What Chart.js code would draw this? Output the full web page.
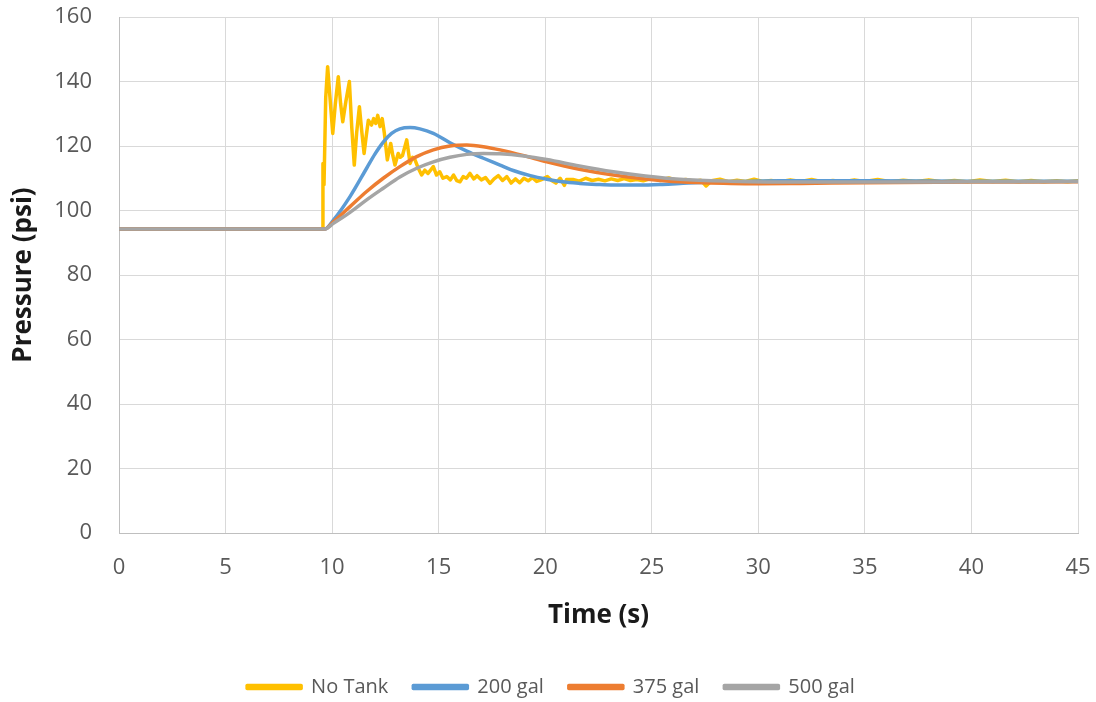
<!DOCTYPE html>
<html>
<head>
<meta charset="utf-8">
<script src="https://cdn.jsdelivr.net/npm/chart.js@4/dist/chart.umd.min.js"></script>
<style>
  html, body { margin: 0; padding: 0; background: #ffffff; overflow: hidden; }
  #wrap { width: 1096px; height: 702px; }
</style>
</head>
<body>
<div id="wrap"><canvas id="c" width="1096" height="702"></canvas></div>
<script>
// ---- Data ----
const seriesNames = ["No Tank", "200 gal", "375 gal", "500 gal"];
const xTicks = [0, 5, 10, 15, 20, 25, 30, 35, 40, 45];
const yTicks = [0, 20, 40, 60, 80, 100, 120, 140, 160];

const noTankTime = [0, 9.55, 9.57, 9.62, 9.7, 9.79, 9.9, 10.03, 10.15, 10.29, 10.4, 10.5, 10.65, 10.81, 10.92, 11.04, 11.15, 11.28, 11.4, 11.5, 11.6, 11.7, 11.85, 11.95, 12.05, 12.14, 12.25, 12.35, 12.45, 12.59, 12.75, 12.85, 12.95, 13.1, 13.2, 13.3, 13.5, 13.66, 13.78, 13.89, 14.05, 14.2, 14.35, 14.5, 14.75, 14.9, 15.05, 15.2, 15.38, 15.55, 15.7, 15.85, 16.0, 16.15, 16.3, 16.47, 16.65, 16.8, 17.0, 17.2, 17.41, 17.6, 17.8, 18.0, 18.2, 18.4, 18.6, 18.8, 19.0, 19.2, 19.4, 19.6, 19.8, 20.1, 20.3, 20.5, 20.7, 20.9, 21.0, 21.3, 21.6, 21.9, 22.2, 22.5, 22.8, 23.1, 23.4, 23.7, 24.0, 24.3, 24.6, 25.0, 25.4, 25.8, 26.2, 26.6, 27.0, 27.3, 27.55, 27.8, 28.2, 28.6, 29.0, 29.4, 29.8, 30.2, 30.6, 31.0, 31.5, 32.0, 32.5, 33.0, 33.5, 34.0, 34.5, 35.0, 35.6, 36.2, 36.8, 37.4, 38.0, 38.6, 39.2, 39.8, 40.4, 41.0, 41.6, 42.2, 42.8, 43.4, 44.0, 44.5, 45.0];
const noTankPsi = [94.3, 94.3, 114.6, 108, 135, 144.6, 135, 123.9, 133, 141.5, 133, 127.5, 134, 140, 126, 114.1, 124, 132.2, 124, 117.7, 123, 128, 126.5, 128.5, 127, 129.5, 126, 128.5, 124, 115.7, 120.8, 117, 114.1, 117.7, 116.5, 117, 121.9, 114.6, 116.5, 115.7, 113, 111, 112.5, 111.5, 113.6, 111, 112, 110, 110.5, 109.5, 111, 109.3, 108.9, 110.5, 110, 111.5, 109.8, 110.8, 109.5, 110.2, 108.4, 109.8, 110.8, 109.3, 110.5, 108.5, 109.8, 108.6, 110, 109.2, 110.2, 109, 109.5, 110.5, 109.3, 108.5, 110, 107.8, 109.6, 109.6, 109.1, 110, 109.3, 109.7, 109.2, 109.8, 109.3, 109.9, 109.3, 109.6, 109.2, 110, 109.3, 110.1, 109.3, 109.6, 109.1, 109.4, 107.6, 109.2, 109.7, 108.9, 109.4, 109.0, 109.7, 109.0, 109.3, 108.9, 109.5, 109.0, 109.6, 108.9, 109.3, 108.9, 109.5, 109.0, 109.6, 108.9, 109.4, 109.0, 109.5, 108.9, 109.3, 108.9, 109.5, 109.0, 109.4, 108.9, 109.3, 108.9, 109.2, 108.9, 109.2];

const tank200Time = [0, 9.67, 10.06, 10.84, 11.62, 12.0, 12.4, 12.79, 13.18, 13.66, 14.12, 14.75, 15.53, 16.32, 17.1, 17.88, 18.5, 19.3, 20.07, 20.8, 21.63, 22.4, 23.2, 24.45, 25.5, 26.7, 27.9, 29.0, 31.0, 35.0, 40.0, 45.0];
const tank200Psi  = [94.3, 94.3, 97.0, 104.3, 113.1, 117.4, 121.2, 123.9, 125.3, 125.7, 125.3, 123.9, 121.0, 118.4, 116.2, 114.1, 112.4, 110.8, 109.7, 108.9, 108.4, 108.1, 107.9, 107.9, 108.1, 108.5, 108.8, 109.0, 109.2, 109.2, 109.1, 109.1];

const tank375Time = [0, 9.67, 10.06, 10.84, 11.62, 12.4, 13.18, 13.97, 14.75, 15.53, 16.32, 17.1, 17.88, 19.0, 20.07, 21.6, 23.2, 24.7, 26.3, 28.7, 30.0, 32.0, 35.0, 40.0, 45.0];
const tank375Psi  = [94.3, 94.3, 96.5, 101.2, 105.9, 110.0, 113.6, 116.7, 118.8, 120.0, 120.3, 119.8, 118.8, 117.0, 115.1, 112.8, 111.0, 109.8, 108.9, 108.4, 108.3, 108.4, 108.6, 108.8, 108.9];

const tank500Time = [0, 9.67, 10.06, 10.84, 11.62, 12.4, 13.18, 13.97, 14.75, 15.53, 16.32, 17.1, 17.88, 19.0, 20.07, 21.6, 23.2, 24.7, 26.3, 28.7, 32.0, 36.0, 40.0, 45.0];
const tank500Psi  = [94.3, 94.3, 96.0, 99.4, 103.3, 106.9, 110.4, 113.1, 115.1, 116.5, 117.4, 117.7, 117.6, 116.9, 115.8, 113.8, 112.0, 110.7, 109.7, 109.1, 108.8, 108.8, 108.9, 109.0];

const seriesColors = ["#FFC000", "#5B9BD5", "#ED7D31", "#A5A5A5"];

function pts(t, v) { return t.map((x, i) => ({ x: x, y: v[i] })); }

const datasets = [
  { label: seriesNames[0], data: pts(noTankTime, noTankPsi), order: 4, tension: 0 },
  { label: seriesNames[1], data: pts(tank200Time, tank200Psi), order: 3, cubicInterpolationMode: 'monotone' },
  { label: seriesNames[2], data: pts(tank375Time, tank375Psi), order: 2, cubicInterpolationMode: 'monotone' },
  { label: seriesNames[3], data: pts(tank500Time, tank500Psi), order: 1, cubicInterpolationMode: 'monotone' }
].map((d, i) => Object.assign(d, {
  borderColor: seriesColors[i],
  backgroundColor: seriesColors[i],
  borderWidth: 3.5,
  pointRadius: 0,
  pointHoverRadius: 0,
  fill: false,
  borderJoinStyle: 'round',
  borderCapStyle: 'round'
}));

const TICK_FONT = { family: "'Open Sans', sans-serif", size: 22 };
const TITLE_FONT = { family: "'Open Sans', sans-serif", size: 26, weight: 'bold', lineHeight: 1.2 };

function noScalePadding(s) {
  s.paddingTop = 0; s.paddingBottom = 0; s.paddingLeft = 0; s.paddingRight = 0;
}

const shiftLegend = {
  id: 'shiftLegend',
  afterLayout(chart) {
    const l = chart.legend;
    if (l) { l.top += 5; l.bottom += 5; l.left += 12; l.right += 12; }
  }
};

new Chart(document.getElementById('c'), {
  type: 'line',
  data: { datasets: datasets },
  plugins: [shiftLegend],
  options: {
    responsive: false,
    animation: false,
    events: [],
    layout: { padding: { left: 0, right: 18, top: 17, bottom: 0 } },
    scales: {
      x: {
        type: 'linear',
        min: xTicks[0],
        max: xTicks[xTicks.length - 1],
        afterBuildTicks: s => { s.ticks = xTicks.map(v => ({ value: v })); },
        afterFit: s => { s.height = 114; noScalePadding(s); },
        grid: { color: '#D9D9D9', lineWidth: 1, drawTicks: false },
        border: { color: '#BFBFBF', width: 1 },
        ticks: { color: '#595959', font: TICK_FONT, padding: 22, maxRotation: 0, autoSkip: false },
        title: { display: true, text: 'Time (s)', color: '#1a1a1a', font: TITLE_FONT, padding: { top: 0, bottom: 16 } }
      },
      y: {
        type: 'linear',
        min: yTicks[0],
        max: yTicks[yTicks.length - 1],
        afterBuildTicks: s => { s.ticks = yTicks.map(v => ({ value: v })); },
        afterFit: s => { s.width = 119; noScalePadding(s); },
        grid: { color: '#D9D9D9', lineWidth: 1, drawTicks: false },
        border: { color: '#BFBFBF', width: 1 },
        ticks: { color: '#595959', font: TICK_FONT, padding: 27 },
        title: { display: true, text: 'Pressure (psi)', color: '#1a1a1a', font: TITLE_FONT, padding: { top: 8, bottom: 0 } }
      }
    },
    plugins: {
      tooltip: { enabled: false },
      legend: {
        display: true,
        position: 'bottom',
        labels: {
          boxWidth: 54,
          boxHeight: 3,
          padding: 25,
          color: '#595959',
          font: { family: "'Open Sans', sans-serif", size: 20 },
          sort: (a, b) => a.datasetIndex - b.datasetIndex
        }
      }
    }
  }
});
</script>
</body>
</html>
